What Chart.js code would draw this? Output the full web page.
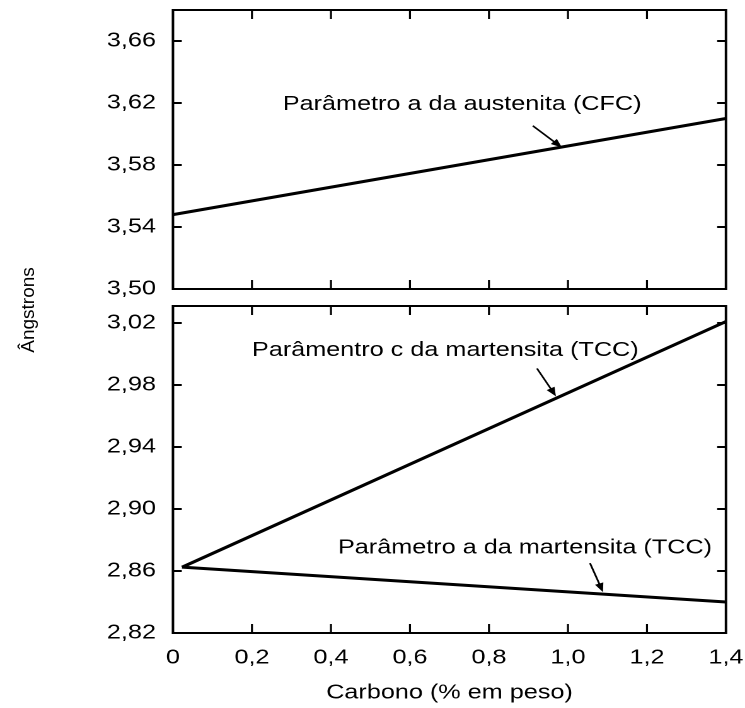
<!DOCTYPE html>
<html>
<head>
<meta charset="utf-8">
<script src="https://cdn.jsdelivr.net/npm/chart.js@4.4.0/dist/chart.umd.min.js"></script>
<style>
  body { margin: 0; background: #fff; }
  #page { position: relative; width: 745px; height: 708px; overflow: hidden; }
  /* the scanned figure is stretched sideways, so the charts are too */
  #wrap { position: absolute; left: 0; top: 0; width: 591px; height: 708px;
          transform: scaleX(1.2606); transform-origin: 0 0; }
  .box { position: absolute; left: 0; width: 591px; }
  #ylabel { position: absolute; left: -31px; top: 298px; width: 120px; height: 24px;
            line-height: 24px; text-align: center; font: 19px "Liberation Sans", Arial, sans-serif;
            transform: rotate(-90deg); color: #000; }
</style>
</head>
<body>
<div id="page">
  <div id="wrap">
    <div class="box" style="top:0;height:300px"><canvas id="topChart"></canvas></div>
    <div class="box" style="top:290px;height:418px"><canvas id="bottomChart"></canvas></div>
  </div>
  <div id="ylabel">Ângstrons</div>
</div>
<script>
// dados
const carbonAust = [0, 1.4];
const austeniteA = [3.548, 3.610];
const carbonMart = [0.023, 1.4];
const martensiteC = [2.8625, 3.021];
const martensiteA = [2.8625, 2.840];

const xTicks = [0, 0.2, 0.4, 0.6, 0.8, 1.0, 1.2, 1.4];
const topYTicks = [3.50, 3.54, 3.58, 3.62, 3.66];
const bottomYTicks = [2.82, 2.86, 2.90, 2.94, 2.98, 3.02];

const topNotes = [
    { text: "Parâmetro a da austenita (CFC)", x: 0.278, y: 3.619, from: [0.911, 3.6053], to: [0.985, 3.5912] },
];
const bottomNotes = [
    { text: "Parâmentro c da martensita (TCC)", x: 0.200, y: 3.0023, from: [0.9215, 2.9907], to: [0.9696, 2.9727] },
    { text: "Parâmetro a da martensita (TCC)", x: 0.4177, y: 2.8748, from: [1.0557, 2.8651], to: [1.0886, 2.8464] },
];

Chart.defaults.font.family = '"Liberation Sans", Arial, sans-serif';
Chart.defaults.color = "#000";

const AXIS_W = 137.2;
const fmtY = (v) => v.toFixed(2).replace(".", ",");
const fmtX = (v) => (v === 0 ? "0" : v.toFixed(1).replace(".", ","));
const pts = (xs, ys) => xs.map((x, i) => ({ x: x, y: ys[i] }));

// sem folga extra das etiquetas, a area do grafico fica onde o layout manda
function noLabelPadding(s) {
    s.paddingTop = 0;
    s.paddingBottom = 0;
    s.paddingLeft = 0;
    s.paddingRight = 0;
}

// moldura, marcas para dentro e anotações
function framePlugin(yTicks, notes) {
    return {
        id: "frame",
        afterDraw(chart) {
            const ctx = chart.ctx;
            const { left, right, top, bottom } = chart.chartArea;
            const sx = chart.scales.x;
            const sy = chart.scales.y;
            ctx.save();
            ctx.strokeStyle = "#000";
            ctx.fillStyle = "#000";
            ctx.lineWidth = 2;
            ctx.strokeRect(left, top, right - left, bottom - top);

            ctx.lineWidth = 1.6;
            xTicks.forEach((v) => {
                if (v <= sx.min || v >= sx.max) return;
                const px = sx.getPixelForValue(v);
                ctx.beginPath();
                ctx.moveTo(px, bottom);
                ctx.lineTo(px, bottom - 9);
                ctx.moveTo(px, top);
                ctx.lineTo(px, top + 9);
                ctx.stroke();
            });
            ctx.lineWidth = 2;
            yTicks.forEach((v) => {
                if (v <= sy.min || v >= sy.max) return;
                const py = sy.getPixelForValue(v);
                ctx.beginPath();
                ctx.moveTo(left, py);
                ctx.lineTo(left + 7, py);
                ctx.moveTo(right, py);
                ctx.lineTo(right - 7, py);
                ctx.stroke();
            });

            ctx.font = '20px "Liberation Sans", Arial, sans-serif';
            ctx.textAlign = "left";
            ctx.textBaseline = "middle";
            notes.forEach((n) => {
                ctx.fillText(n.text, sx.getPixelForValue(n.x), sy.getPixelForValue(n.y));
                const x1 = sx.getPixelForValue(n.from[0]);
                const y1 = sy.getPixelForValue(n.from[1]);
                const x2 = sx.getPixelForValue(n.to[0]);
                const y2 = sy.getPixelForValue(n.to[1]);
                const a = Math.atan2(y2 - y1, x2 - x1);
                ctx.lineWidth = 1.5;
                ctx.beginPath();
                ctx.moveTo(x1, y1);
                ctx.lineTo(x2 - 6 * Math.cos(a), y2 - 6 * Math.sin(a));
                ctx.stroke();
                ctx.beginPath();
                ctx.moveTo(x2, y2);
                ctx.lineTo(x2 - 9 * Math.cos(a) + 3.5 * Math.sin(a), y2 - 9 * Math.sin(a) - 3.5 * Math.cos(a));
                ctx.lineTo(x2 - 9 * Math.cos(a) - 3.5 * Math.sin(a), y2 - 9 * Math.sin(a) + 3.5 * Math.cos(a));
                ctx.closePath();
                ctx.fill();
            });
            ctx.restore();
        },
    };
}

function lineSet(data) {
    return {
        data: data,
        showLine: true,
        borderColor: "#000",
        borderWidth: 3,
        pointRadius: 0,
        fill: false,
    };
}

function yScale(min, max, ticks) {
    return {
        type: "linear",
        min: min,
        max: max,
        afterBuildTicks: (s) => { s.ticks = ticks.map((v) => ({ value: v })); },
        afterFit: (s) => { s.width = AXIS_W; noLabelPadding(s); },
        grid: { display: false, drawTicks: false },
        border: { display: false },
        ticks: { padding: 13.5, font: { size: 20 }, color: "#000", callback: (v) => fmtY(v) },
    };
}

const common = {
    responsive: true,
    maintainAspectRatio: false,
    animation: false,
    devicePixelRatio: 2,
    plugins: { legend: { display: false }, tooltip: { enabled: false } },
};

// grafico de cima: austenita
new Chart(document.getElementById("topChart"), {
    type: "scatter",
    data: { datasets: [lineSet(pts(carbonAust, austeniteA))] },
    options: {
        ...common,
        layout: { padding: { top: 10, bottom: 11, left: 0, right: 15.1 } },
        scales: {
            x: { type: "linear", min: 0, max: 1.4, display: false },
            y: yScale(3.50, 3.68, topYTicks),
        },
    },
    plugins: [framePlugin(topYTicks, topNotes)],
});

// grafico de baixo: martensita
new Chart(document.getElementById("bottomChart"), {
    type: "scatter",
    data: {
        datasets: [
            lineSet(pts(carbonMart, martensiteC)),
            lineSet(pts(carbonMart, martensiteA)),
        ],
    },
    options: {
        ...common,
        layout: { padding: { top: 16, bottom: 3, left: 0, right: 15.1 } },
        scales: {
            x: {
                type: "linear",
                min: 0,
                max: 1.4,
                afterBuildTicks: (s) => { s.ticks = xTicks.map((v) => ({ value: v })); },
                afterFit: (s) => { s.height = 72; noLabelPadding(s); },
                grid: { display: false, drawTicks: false },
                border: { display: false },
                ticks: { padding: 13, font: { size: 20 }, color: "#000", maxRotation: 0, autoSkip: false, callback: (v) => fmtX(v) },
                title: { display: true, text: "Carbono (% em peso)", font: { size: 20 }, color: "#000", padding: { top: 11, bottom: 0 } },
            },
            y: yScale(2.82, 3.031, bottomYTicks),
        },
    },
    plugins: [framePlugin(bottomYTicks, bottomNotes)],
});
</script>
</body>
</html>
